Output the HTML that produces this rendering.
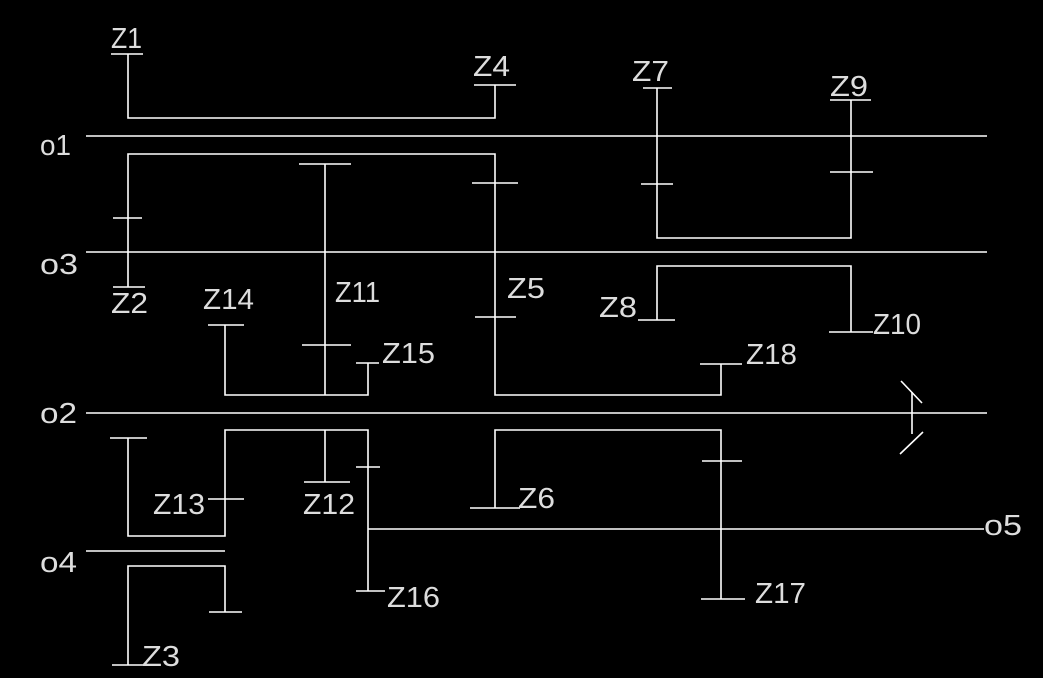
<!DOCTYPE html>
<html><head><meta charset="utf-8"><style>
html,body{margin:0;padding:0;background:#000;}
svg{display:block;}
text{font-family:"Liberation Sans",sans-serif;font-size:29px;fill:#ddd;}
</style></head><body>
<svg width="1043" height="678" viewBox="0 0 1043 678" xmlns="http://www.w3.org/2000/svg">
<rect width="1043" height="678" fill="#000"/>
<g stroke="#fff" stroke-width="1.6" fill="none">
<line x1="86" y1="136" x2="987" y2="136"/>
<line x1="86" y1="252" x2="987" y2="252"/>
<line x1="86" y1="413" x2="987" y2="413"/>
<line x1="86" y1="551" x2="225" y2="551"/>
<line x1="368" y1="529" x2="984" y2="529"/>
<polyline points="128,54 128,118 495,118 495,85"/>
<line x1="111" y1="54" x2="143" y2="54"/>
<line x1="474" y1="85" x2="516" y2="85"/>
<polyline points="128,287 128,154 495,154 495,395 721,395 721,364"/>
<line x1="113" y1="287" x2="145" y2="287"/>
<line x1="113" y1="218" x2="142" y2="218"/>
<line x1="472" y1="183" x2="518" y2="183"/>
<line x1="475" y1="317" x2="516" y2="317"/>
<line x1="700" y1="364" x2="742" y2="364"/>
<line x1="325" y1="164" x2="325" y2="395"/>
<line x1="299" y1="164" x2="351" y2="164"/>
<line x1="302" y1="345" x2="351" y2="345"/>
<polyline points="225,325 225,395 368,395 368,363"/>
<line x1="208" y1="325" x2="244" y2="325"/>
<line x1="356" y1="363" x2="379" y2="363"/>
<polyline points="657,88 657,238 851,238 851,100"/>
<line x1="643" y1="88" x2="672" y2="88"/>
<line x1="641" y1="184" x2="673" y2="184"/>
<line x1="830" y1="100" x2="871" y2="100"/>
<line x1="830" y1="172" x2="873" y2="172"/>
<polyline points="657,320 657,266 851,266 851,332"/>
<line x1="638" y1="320" x2="675" y2="320"/>
<line x1="829" y1="332" x2="873" y2="332"/>
<polyline points="128,438 128,536 225,536 225,430 368,430 368,591"/>
<line x1="110" y1="438" x2="147" y2="438"/>
<line x1="208" y1="499" x2="244" y2="499"/>
<line x1="325" y1="430" x2="325" y2="482"/>
<line x1="304" y1="482" x2="350" y2="482"/>
<line x1="356" y1="467" x2="380" y2="467"/>
<line x1="356" y1="591" x2="385" y2="591"/>
<polyline points="495,508 495,430 721,430 721,599"/>
<line x1="470" y1="508" x2="520" y2="508"/>
<line x1="702" y1="461" x2="742" y2="461"/>
<line x1="701" y1="599" x2="745" y2="599"/>
<polyline points="225,612 225,566 128,566 128,665"/>
<line x1="209" y1="612" x2="242" y2="612"/>
<line x1="112" y1="665" x2="144" y2="665"/>
<line x1="912" y1="392" x2="912" y2="434"/>
<line x1="901" y1="381" x2="922" y2="403"/>
<line x1="923" y1="432" x2="900" y2="454"/>
</g>
<g>
<text x="111" y="48" textLength="31" lengthAdjust="spacingAndGlyphs">Z1</text>
<text x="473" y="76" textLength="37" lengthAdjust="spacingAndGlyphs">Z4</text>
<text x="40" y="155" textLength="31" lengthAdjust="spacingAndGlyphs">o1</text>
<text x="40" y="274" textLength="38" lengthAdjust="spacingAndGlyphs">o3</text>
<text x="40" y="423" textLength="37" lengthAdjust="spacingAndGlyphs">o2</text>
<text x="40" y="572" textLength="37" lengthAdjust="spacingAndGlyphs">o4</text>
<text x="984" y="535" textLength="38" lengthAdjust="spacingAndGlyphs">o5</text>
<text x="111" y="313" textLength="37" lengthAdjust="spacingAndGlyphs">Z2</text>
<text x="203" y="309" textLength="51" lengthAdjust="spacingAndGlyphs">Z14</text>
<text x="335" y="302" textLength="45" lengthAdjust="spacingAndGlyphs">Z11</text>
<text x="507" y="298" textLength="38" lengthAdjust="spacingAndGlyphs">Z5</text>
<text x="382" y="363" textLength="53" lengthAdjust="spacingAndGlyphs">Z15</text>
<text x="746" y="364" textLength="51" lengthAdjust="spacingAndGlyphs">Z18</text>
<text x="632" y="81" textLength="37" lengthAdjust="spacingAndGlyphs">Z7</text>
<text x="830" y="96" textLength="38" lengthAdjust="spacingAndGlyphs">Z9</text>
<text x="599" y="317" textLength="38" lengthAdjust="spacingAndGlyphs">Z8</text>
<text x="873" y="334" textLength="48" lengthAdjust="spacingAndGlyphs">Z10</text>
<text x="153" y="514" textLength="52" lengthAdjust="spacingAndGlyphs">Z13</text>
<text x="303" y="514" textLength="52" lengthAdjust="spacingAndGlyphs">Z12</text>
<text x="387" y="607" textLength="53" lengthAdjust="spacingAndGlyphs">Z16</text>
<text x="518" y="508" textLength="37" lengthAdjust="spacingAndGlyphs">Z6</text>
<text x="755" y="603" textLength="51" lengthAdjust="spacingAndGlyphs">Z17</text>
<text x="142" y="666" textLength="38" lengthAdjust="spacingAndGlyphs">Z3</text>
</g>
</svg>
</body></html>
